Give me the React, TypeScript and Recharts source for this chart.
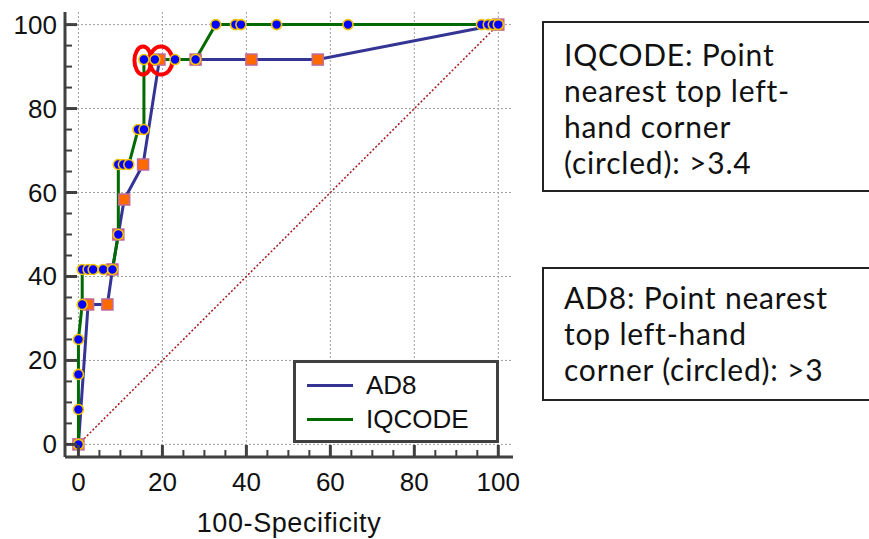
import React from 'react';
import { ComposedChart, Line, Scatter, XAxis, YAxis, CartesianGrid, Legend } from 'recharts';

// AD8 ROC points (100-Specificity, Sensitivity)
const ad8X = [0, 2.3, 6.9, 8.1, 9.5, 10.9, 15.4, 19.3, 27.9, 41.2, 57.0, 100];
const ad8Y = [0, 33.33, 33.33, 41.67, 50, 58.33, 66.67, 91.67, 91.67, 91.67, 91.67, 100];

// IQCODE ROC points
const iqX = [0, 0, 0, 0, 0.9, 0.9, 2.3, 3.5, 5.9, 8.1, 9.5, 9.5, 10.7, 12.0, 14.2, 15.6, 15.6, 18.2, 23.0, 27.9, 32.7, 37.4, 38.7, 47.2, 64.2, 96, 97.6, 98.8, 100];
const iqY = [0, 8.33, 16.67, 25, 33.33, 41.67, 41.67, 41.67, 41.67, 41.67, 50, 66.67, 66.67, 66.67, 75, 75, 91.67, 91.67, 91.67, 91.67, 100, 100, 100, 100, 100, 100, 100, 100, 100];

// Reference diagonal
const diagX = [0, 100];
const diagY = [0, 100];

// Circled optimal points
const circledIQ = [{ x: 15.6, y: 91.67 }];
const circledAD8 = [{ x: 19.3, y: 91.67 }];

const axisTicks = [0, 5, 10, 15, 20, 25, 30, 35, 40, 45, 50, 55, 60, 65, 70, 75, 80, 85, 90, 95, 100];
const majorTicks = [0, 20, 40, 60, 80, 100];

const seriesNames = ['AD8', 'IQCODE'];
const seriesColors = ['#343494', '#006a00'];

const boxText1 = ['IQCODE: Point', 'nearest top left-', 'hand corner', '(circled): >3.4'];
const boxText2 = ['AD8: Point nearest', 'top left-hand', 'corner (circled): >3'];
const xTitle = '100-Specificity';

const zip = (xs: number[], ys: number[]) => xs.map((x, i) => ({ x, y: ys[i] }));
const ad8Data = zip(ad8X, ad8Y);
const iqData = zip(iqX, iqY);
const diagData = zip(diagX, diagY);

const AXIS = '#404040';
const FONT = '"Liberation Sans", Arial, sans-serif';

const XTick = (props: any) => {
  const { x, y, payload } = props;
  const v = payload.value;
  const major = majorTicks.includes(v);
  return (
    <g>
      <line x1={x} x2={x} y1={y} y2={y - (major ? 12 : 7)} stroke={AXIS} strokeWidth={major ? 3 : 2} />
      {major && (
        <text x={x} y={y + 34} textAnchor="middle" fontSize={26} fontFamily={FONT} fill="#111">
          {v}
        </text>
      )}
    </g>
  );
};

const YTick = (props: any) => {
  const { x, y, payload } = props;
  const v = payload.value;
  const major = majorTicks.includes(v);
  return (
    <g>
      <line x1={x} x2={x + (major ? 12 : 7)} y1={y} y2={y} stroke={AXIS} strokeWidth={major ? 3 : 2} />
      {major && (
        <text x={x - 8} y={y + 9} textAnchor="end" fontSize={26} fontFamily={FONT} fill="#111">
          {v}
        </text>
      )}
    </g>
  );
};

const CircleDot = (p: any) => (
  <circle key={`c-${p.index}`} cx={p.cx} cy={p.cy} r={5} fill="#0000ff" stroke="#f4c400" strokeWidth={1.6} />
);

const SquareDot = (p: any) => (
  <rect key={`s-${p.index}`} x={p.cx - 5.5} y={p.cy - 5.5} width={11} height={11} fill="#ff6a00" stroke="#c06a9a" strokeWidth={1.5} />
);

const RingNarrow = (p: any) => (
  <ellipse cx={p.cx - 1} cy={p.cy + 1} rx={8.5} ry={14} fill="none" stroke="#ff0000" strokeWidth={4} />
);
const RingWide = (p: any) => (
  <ellipse cx={p.cx + 1.5} cy={p.cy + 1} rx={11.5} ry={14} fill="none" stroke="#ff0000" strokeWidth={4} />
);

const LegendBox = () => (
  <div
    style={{
      width: 206,
      height: 83,
      boxSizing: 'border-box',
      border: `3px solid ${AXIS}`,
      background: '#fff',
      fontFamily: FONT,
      fontSize: 26,
      color: '#111',
      paddingTop: 5,
    }}
  >
    {seriesNames.map((n, i) => (
      <div key={n} style={{ display: 'flex', alignItems: 'center', height: 34 }}>
        <div style={{ width: 46, height: 3, background: seriesColors[i], marginLeft: 11, marginRight: 13 }} />
        <span style={{ lineHeight: '34px' }}>{n}</span>
      </div>
    ))}
  </div>
);

const boxStyle: React.CSSProperties = {
  position: 'absolute',
  left: 542,
  width: 345,
  boxSizing: 'border-box',
  border: '2px solid #222',
  background: '#fff',
  fontFamily: 'Lato, "Open Sans", sans-serif',
  fontSize: 30,
  letterSpacing: 0.8,
  color: '#111',
  paddingLeft: 20,
  whiteSpace: 'nowrap',
  lineHeight: '36px',
};

export default function App() {
  return (
    <div style={{ position: 'absolute', left: 0, top: 0, width: 869, height: 539, overflow: 'hidden', background: '#fff' }}>
      <ComposedChart width={869} height={539} margin={{ top: 12, right: 356, bottom: 0, left: 0 }}>
        <CartesianGrid
          horizontalValues={majorTicks}
          verticalValues={majorTicks}
          stroke="#a0a0a0"
          strokeDasharray="2 2"
          strokeWidth={1}
        />
        <XAxis
          type="number"
          dataKey="x"
          domain={[-3.2, 103.5]}
          allowDataOverflow
          ticks={axisTicks}
          interval={0}
          tickSize={0}
          tickMargin={0}
          tickLine={false}
          axisLine={{ stroke: AXIS, strokeWidth: 3 }}
          tick={<XTick />}
          height={82}
          label={(lp: any) => {
            const vb = lp.viewBox || {};
            return (
              <text
                x={vb.x + vb.width / 2}
                y={vb.y + vb.height - 7}
                textAnchor="middle"
                fontSize={27}
                letterSpacing={0.6}
                fontFamily={FONT}
                fill="#111"
              >
                {xTitle}
              </text>
            );
          }}
        />
        <YAxis
          type="number"
          dataKey="y"
          domain={[-3, 103]}
          allowDataOverflow
          ticks={axisTicks}
          interval={0}
          tickSize={0}
          tickMargin={0}
          tickLine={false}
          axisLine={{ stroke: AXIS, strokeWidth: 3 }}
          tick={<YTick />}
          width={65}
        />
        <Line
          data={diagData}
          dataKey="y"
          type="linear"
          stroke="#a01818"
          strokeWidth={1.5}
          strokeDasharray="2 2"
          dot={false}
          activeDot={false}
          isAnimationActive={false}
          legendType="none"
        />
        <Line
          data={ad8Data}
          dataKey="y"
          name="AD8"
          type="linear"
          stroke={seriesColors[0]}
          strokeWidth={3}
          dot={SquareDot}
          activeDot={false}
          isAnimationActive={false}
        />
        <Line
          data={iqData}
          dataKey="y"
          name="IQCODE"
          type="linear"
          stroke={seriesColors[1]}
          strokeWidth={3}
          dot={CircleDot}
          activeDot={false}
          isAnimationActive={false}
        />
        <Scatter data={circledIQ} dataKey="y" shape={RingNarrow} isAnimationActive={false} legendType="none" />
        <Scatter data={circledAD8} dataKey="y" shape={RingWide} isAnimationActive={false} legendType="none" />
        <Legend
          layout="horizontal"
          verticalAlign="middle"
          align="center"
          content={<LegendBox />}
          wrapperStyle={{ left: 293, top: 360, width: 206, height: 83 }}
        />
      </ComposedChart>
      <div style={{ ...boxStyle, top: 21, height: 171, paddingTop: 13 }}>
        {boxText1.map((t) => (
          <div key={t}>{t}</div>
        ))}
      </div>
      <div style={{ ...boxStyle, top: 267, height: 134, paddingTop: 10 }}>
        {boxText2.map((t) => (
          <div key={t}>{t}</div>
        ))}
      </div>
    </div>
  );
}
